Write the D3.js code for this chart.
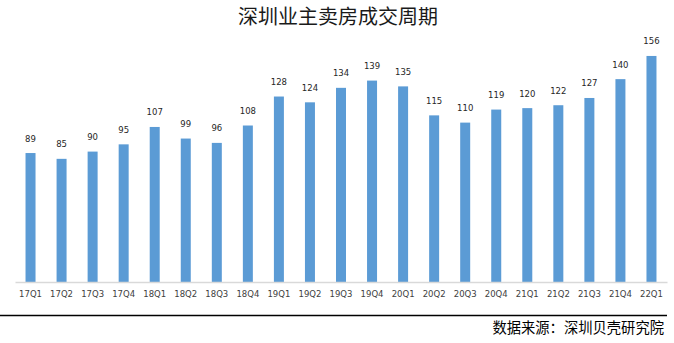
<!DOCTYPE html>
<html><head><meta charset="utf-8">
<script src="https://cdn.jsdelivr.net/npm/d3@7"></script>
<style>body{margin:0;background:#fff}svg{display:block}</style>
</head><body>
<svg id="c" width="674" height="343"></svg>
<script>
const categories = ["17Q1","17Q2","17Q3","17Q4","18Q1","18Q2","18Q3","18Q4","19Q1","19Q2","19Q3","19Q4","20Q1","20Q2","20Q3","20Q4","21Q1","21Q2","21Q3","21Q4","22Q1"];
const values = [89,85,90,95,107,99,96,108,128,124,134,139,135,115,110,119,120,122,127,140,156];
const titleText = "深圳业主卖房成交周期";
const sourceText = "数据来源：深圳贝壳研究院";

const svg = d3.select("#c");
const x = d3.scaleBand().domain(categories).range([15, 667]).paddingInner(0.678).paddingOuter(0.339);
const y = d3.scaleLinear().domain([0, 180]).range([282, 282 - 180 * 1.449]);

svg.append("text").attr("x", 338).attr("y", 24).attr("text-anchor", "middle")
  .attr("font-family", "Noto Sans CJK SC").attr("font-size", 20).attr("fill", "#1a1a1a").text(titleText);

svg.append("g").selectAll("rect").data(values).join("rect")
  .attr("x", (d, i) => x(categories[i])).attr("width", x.bandwidth())
  .attr("y", d => y(d)).attr("height", d => y(0) - y(d)).attr("fill", "#5b9bd5");

svg.append("g").selectAll("text").data(values).join("text")
  .attr("x", (d, i) => x(categories[i]) + x.bandwidth() / 2).attr("y", d => y(d) - 11.5)
  .attr("text-anchor", "middle").attr("font-family", "DejaVu Sans").attr("font-size", 8.5)
  .attr("fill", "#262626").text(d => d);

const xAxis = svg.append("g").attr("transform", "translate(0,282)")
  .call(d3.axisBottom(x).tickSize(0).tickPadding(9));
xAxis.select(".domain").attr("stroke", "#d9d9d9").attr("stroke-width", 1.5);
xAxis.selectAll("text").attr("font-family", "DejaVu Sans").attr("font-size", 8.5).attr("fill", "#404040");

svg.append("line").attr("x1", 0).attr("x2", 667).attr("y1", 315.5).attr("y2", 315.5)
  .attr("stroke", "#000").attr("stroke-width", 1.5);
svg.append("text").attr("x", 664).attr("y", 333).attr("text-anchor", "end")
  .attr("font-family", "Noto Sans CJK SC").attr("font-size", 14.3).attr("fill", "#000").text(sourceText);
</script>
</body></html>
